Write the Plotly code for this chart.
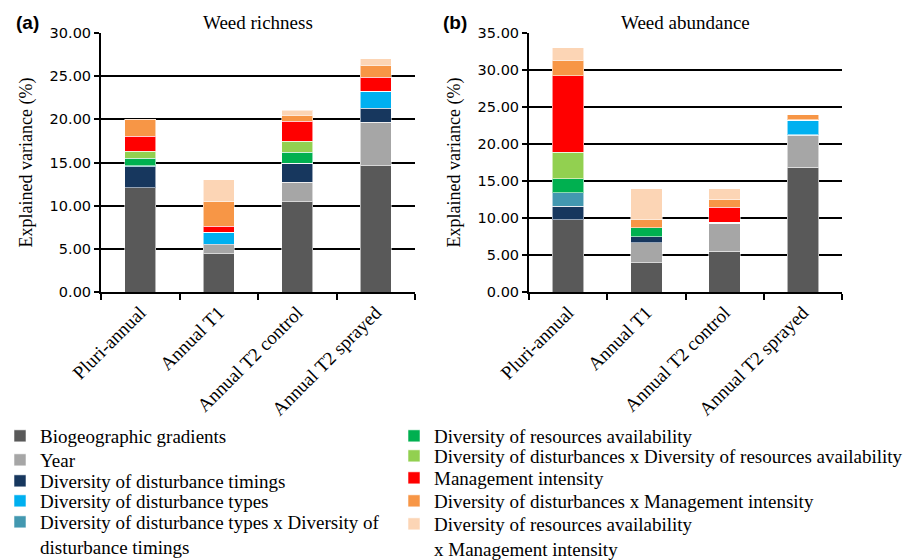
import plotly.graph_objects as go

categories = ["Pluri-annual", "Annual T1", "Annual T2 control", "Annual T2 sprayed"]

component_names = [
    "Biogeographic gradients",
    "Year",
    "Diversity of disturbance timings",
    "Diversity of disturbance types",
    "Diversity of disturbance types x Diversity of<br>disturbance timings",
    "Diversity of resources availability",
    "Diversity of disturbances x Diversity of resources availability",
    "Management intensity",
    "Diversity of disturbances x Management intensity",
    "Diversity of resources availability<br>x Management intensity",
]
bar_colors = ["#595959", "#a6a6a6", "#17375e", "#00b0f0", "#4398b0",
              "#00b050", "#92d050", "#ff0000", "#f79646", "#fcd5b5"]

# (a) Weed richness - explained variance (%)
biogeo_a = [12.1, 4.45, 10.45, 14.6]
year_a = [0, 1.0, 2.25, 5.05]
timings_a = [2.4, 0.08, 2.2, 1.65]
types_a = [0, 1.4, 0, 1.95]
types_x_timings_a = [0.1, 0, 0, 0]
resources_a = [0.9, 0, 1.3, 0]
dist_x_res_a = [0.8, 0, 1.25, 0]
mgmt_a = [1.75, 0.7, 2.35, 1.6]
dist_x_mgmt_a = [1.95, 2.8, 0.65, 1.4]
res_x_mgmt_a = [0, 2.6, 0.6, 0.75]

# (b) Weed abundance - explained variance (%)
biogeo_b = [9.75, 3.95, 5.5, 16.85]
year_b = [0, 2.7, 3.8, 4.35]
timings_b = [1.85, 0.85, 0, 0.08]
types_b = [0, 0, 0, 1.9]
types_x_timings_b = [1.8, 0, 0.1, 0]
resources_b = [1.9, 1.15, 0, 0]
dist_x_res_b = [3.6, 0, 0, 0]
mgmt_b = [10.3, 0, 2.05, 0.12]
dist_x_mgmt_b = [2.1, 1.2, 1.05, 0.65]
res_x_mgmt_b = [1.7, 4.1, 1.45, 0]

series_a = [biogeo_a, year_a, timings_a, types_a, types_x_timings_a,
            resources_a, dist_x_res_a, mgmt_a, dist_x_mgmt_a, res_x_mgmt_a]
series_b = [biogeo_b, year_b, timings_b, types_b, types_x_timings_b,
            resources_b, dist_x_res_b, mgmt_b, dist_x_mgmt_b, res_x_mgmt_b]

W, H = 909, 560
SERIF = "Liberation Serif, Times New Roman, serif"
SANS = "DejaVu Sans, Verdana, sans-serif"

legend_keys = ["legend"] + [f"legend{i}" for i in range(2, 11)]

fig = go.Figure()
for i, (name, col) in enumerate(zip(component_names, bar_colors)):
    fig.add_trace(go.Bar(
        x=categories, y=series_a[i], name=name, marker_color=col,
        marker_line=dict(color="rgba(255,255,255,0.55)", width=1),
        xaxis="x", yaxis="y", legendgroup=str(i), legend=legend_keys[i],
        showlegend=True, hoverinfo="skip"))
    fig.add_trace(go.Bar(
        x=categories, y=series_b[i], name=name, marker_color=col,
        marker_line=dict(color="rgba(255,255,255,0.55)", width=1),
        xaxis="x2", yaxis="y2", legendgroup=str(i), showlegend=False,
        hoverinfo="skip"))

y_bottom = 1 - 292 / H
y_top = 1 - 33 / H

def xaxis_style(domain, anchor):
    return dict(domain=domain, anchor=anchor, type="category",
                showline=True, linecolor="black", linewidth=2,
                ticks="outside", tickson="boundaries", ticklen=6,
                tickwidth=2, tickcolor="black", tickangle=-45,
                tickfont=dict(family=SERIF, size=19, color="black"),
                showgrid=False, automargin=False, fixedrange=True)

def yaxis_style(domain, anchor, rng, standoff, tsize):
    return dict(domain=domain, anchor=anchor, range=rng, dtick=5,
                tickformat=".2f", showline=True, linecolor="black",
                linewidth=2, ticks="outside", ticklen=5, tickwidth=2,
                tickcolor="black", showgrid=True, gridcolor="black",
                gridwidth=2, zeroline=False,
                tickfont=dict(family=SANS, size=14.5, color="black"),
                title=dict(text="Explained variance (%)", standoff=standoff,
                           font=dict(family=SERIF, size=tsize, color="black")),
                automargin=False, fixedrange=True)

layout = dict(
    width=W, height=H,
    margin=dict(l=0, r=0, t=0, b=0, autoexpand=False),
    paper_bgcolor="white", plot_bgcolor="white",
    barmode="stack", bargap=0.6,
    xaxis=xaxis_style([101 / W, 415 / W], "y"),
    yaxis=yaxis_style([y_bottom, y_top], "x", [0, 30], 12, 18),
    xaxis2=xaxis_style([529 / W, 842 / W], "y2"),
    yaxis2=yaxis_style([y_bottom, y_top], "x2", [0, 35], 12, 18),
    annotations=[
        dict(text="Weed richness", x=0.5, y=1 - 23 / H, xref="x domain",
             yref="paper", showarrow=False, xanchor="center", yanchor="middle",
             font=dict(family=SERIF, size=19, color="black")),
        dict(text="Weed abundance", x=0.5, y=1 - 23 / H, xref="x2 domain",
             yref="paper", showarrow=False, xanchor="center", yanchor="middle",
             font=dict(family=SERIF, size=19, color="black")),
        dict(text="<b>(a)</b>", x=27 / W, y=1 - 23 / H, xref="paper",
             yref="paper", showarrow=False, xanchor="center", yanchor="middle",
             font=dict(family="Liberation Sans, Arial, sans-serif", size=19,
                       color="black")),
        dict(text="<b>(b)</b>", x=455 / W, y=1 - 23 / H, xref="paper",
             yref="paper", showarrow=False, xanchor="center", yanchor="middle",
             font=dict(family="Liberation Sans, Arial, sans-serif", size=19,
                       color="black")),
    ],
)

# one small legend per entry, to reproduce the two-column layout
left_centers = [437, 461, 482, 502, 523]
right_centers = [437, 457, 479, 502, 525]
for i, key in enumerate(legend_keys):
    if i < 5:
        xpx, ypx = 0, left_centers[i]
    else:
        xpx, ypx = 394, right_centers[i - 5]
    layout[key] = dict(
        x=xpx / W, y=1 - (ypx - 20) / H, xanchor="left", yanchor="top",
        orientation="v", traceorder="normal", bgcolor="rgba(0,0,0,0)",
        valign="top",
        font=dict(family=SERIF, size=19, color="black"),
        itemclick=False, itemdoubleclick=False)

fig.update_layout(**layout)

fig.write_html("out.html", post_script="document.body.style.margin='0';",
               config={"displayModeBar": False})
